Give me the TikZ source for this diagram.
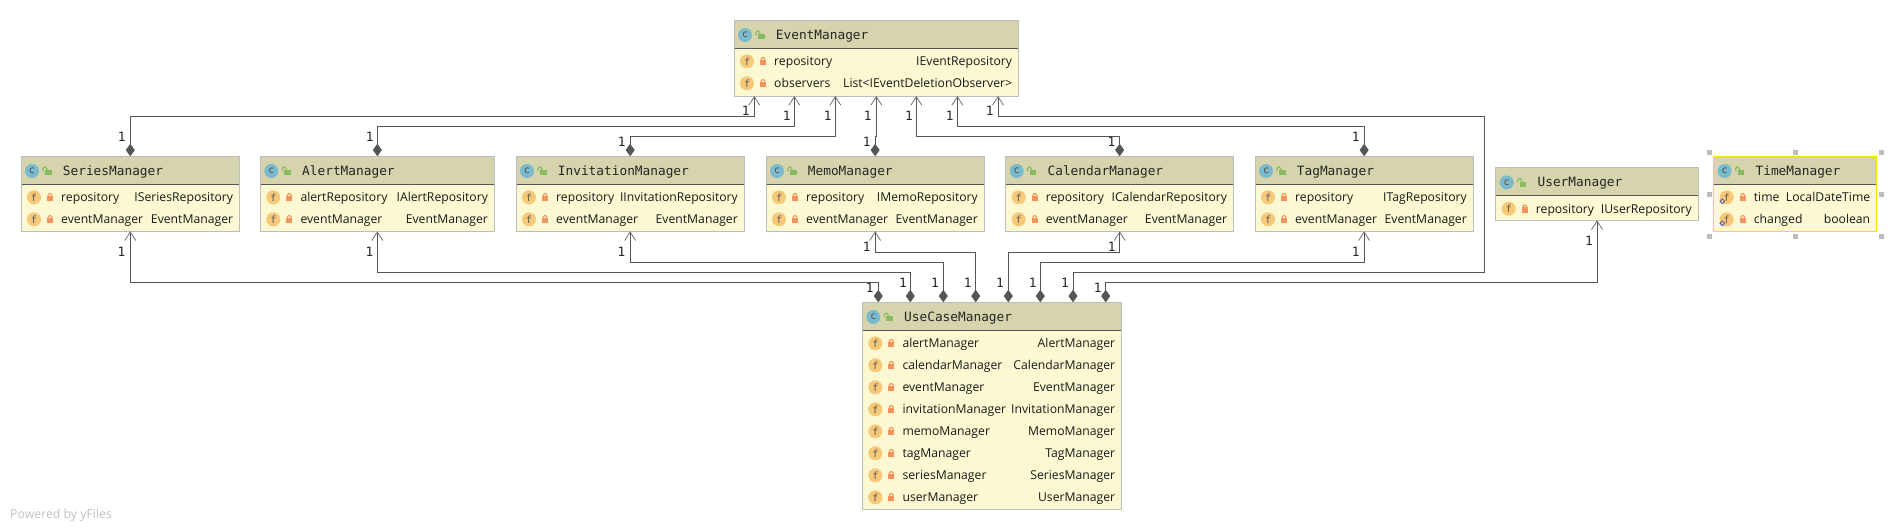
\documentclass[tikz,border=0pt]{standalone}
\usepackage{fontspec}
\usetikzlibrary{arrows.meta,shapes.geometric}
\setmainfont{Open Sans}
\newfontfamily\titlefont{DejaVu Sans Mono}
\definecolor{headfill}{HTML}{D6D4AC}
\definecolor{bodyfill}{HTML}{FCF9D2}
\definecolor{boxline}{HTML}{BDBDBD}
\definecolor{linkline}{HTML}{555555}
\definecolor{tipline}{HTML}{707070}
\definecolor{classicon}{HTML}{7ABACD}
\definecolor{fieldicon}{HTML}{F6C877}
\definecolor{lockred}{HTML}{F5945A}
\definecolor{lockgreen}{HTML}{86BC5E}
\tikzset{
  classbody/.style={draw=boxline,fill=bodyfill,line width=1pt,inner sep=0pt,outer sep=0pt},
  classhead/.style={fill=headfill,inner sep=0pt,outer sep=0pt},
  classtitle/.style={font=\titlefont\fontsize{12.8}{14}\selectfont,text=black!85,anchor=base west,inner sep=0pt},
  fieldtext/.style={font=\fontsize{12.2}{15}\selectfont,text=black!90,anchor=base west,inner sep=0pt},
  typetext/.style={fieldtext,anchor=base east},
  classmark/.style={circle,fill=classicon,minimum size=14pt,inner sep=0pt,font=\titlefont\fontsize{10}{10}\selectfont,text=black!70},
  fieldmark/.style={circle,fill=fieldicon,minimum size=14pt,inner sep=0pt,font=\titlefont\fontsize{10}{10}\selectfont,text=black!65},
  staticmark/.style={diamond,draw=gray!70!blue,line width=0.8pt,minimum size=5pt,inner sep=0pt},
  handle/.style={fill=boxline,minimum size=5pt,inner sep=0pt},
  mult/.style={font=\titlefont\fontsize{12.8}{14}\selectfont,text=black!85,inner sep=0pt},
  assoc/.style={draw=linkline,line width=1pt,{Diamond[length=12.5pt,width=9pt,fill=linkline]}-{Straight Barb[length=8.5pt,width=11pt,color=tipline,line width=0.8pt]}},
  lockshut/.pic={
    \fill[lockred] (-3,-1.4) rectangle (3,4);
    \draw[lockred,line width=1.1pt,rounded corners=1.5pt] (-1.9,-1) -- (-1.9,-3.8) -- (1.9,-3.8) -- (1.9,-1);
  },
  lockopen/.pic={
    \fill[lockgreen] (-2.3,-0.7) rectangle (4.2,4.2);
    \draw[lockgreen,line width=1.1pt,rounded corners=1.5pt] (-4.3,0) -- (-4.3,-4) -- (-0.6,-4) -- (-0.6,-0.7);
  },
}
\newcommand{\umlclass}[7]{
  \pgfmathsetmacro{\boxw}{#4-#2}
  \pgfmathsetmacro{\boxh}{#5-#3}
  \node[classbody,minimum width=\boxw pt,minimum height=\boxh pt] (#1) at ({(#2+#4)/2},{(#3+#5)/2}) {};
  \fill[headfill] (#2+0.5,#3+0.5) rectangle (#4-0.5,#3+28);
  \draw[linkline,line width=0.9pt] (#2+0.5,#3+28) -- (#4-0.5,#3+28);
  \node[classmark] (#1-c) at (#2+11,#3+14.7) {c};
  \pic at (#2+26.3,#3+14.7) {lockopen};
  \node[classtitle] (#1-t) at (#2+41.7,#3+19) {#6};
  \foreach \fname/\ftype [count=\i] in {#7} {
    \pgfmathsetmacro{\rowy}{#3+41+22*(\i-1)}
    \node[fieldmark] (#1-f\i) at (#2+13,\rowy) {f};
    \pic at (#2+29,\rowy) {lockshut};
    \node[fieldtext] (#1-n\i) at (#2+40,\rowy+4.6) {\fname};
    \node[typetext] (#1-y\i) at (#4-6.3,\rowy+4.6) {\ftype};
  }
}

\begin{document}
\begin{tikzpicture}[x=1pt,y=-1pt]
      \useasboundingbox (0,0) rectangle (1897,530);

      \umlclass{event}{734}{20.3}{1018.6}{96}{EventManager}{repository/IEventRepository,observers/List<IEventDeletionObserver>}
      \umlclass{series}{21}{156.3}{239.6}{231.3}{SeriesManager}{repository/ISeriesRepository,eventManager/EventManager}
      \umlclass{alert}{260.3}{156.3}{494.4}{231.3}{AlertManager}{alertRepository/IAlertRepository,eventManager/EventManager}
      \umlclass{invitation}{516}{156.3}{744.3}{231.3}{InvitationManager}{repository/IInvitationRepository,eventManager/EventManager}
      \umlclass{memo}{766}{156.3}{984.3}{231.3}{MemoManager}{repository/IMemoRepository,eventManager/EventManager}
      \umlclass{calendar}{1005.7}{156.3}{1233.6}{231.3}{CalendarManager}{repository/ICalendarRepository,eventManager/EventManager}
      \umlclass{tag}{1255}{156.3}{1473.3}{231.3}{TagManager}{repository/ITagRepository,eventManager/EventManager}
      \umlclass{user}{1495.7}{167.7}{1698.3}{220.3}{UserManager}{repository/IUserRepository}
      \umlclass{usecase}{862.3}{302.3}{1121.7}{509.3}{UseCaseManager}{alertManager/AlertManager,calendarManager/CalendarManager,eventManager/EventManager,invitationManager/InvitationManager,memoManager/MemoManager,tagManager/TagManager,seriesManager/SeriesManager,userManager/UserManager}

      \foreach \hx/\hy [count=\i] in {1709.3/152.3,1795/152.3,1881.7/152.3,1709.3/194.3,1881.7/194.3,1709.3/236.3,1795/236.3,1881.7/236.3}
        \node[handle] (grip\i) at (\hx,\hy) {};
      \umlclass{time}{1713.7}{156.3}{1876.7}{231.3}{TimeManager}{time/LocalDateTime,changed/boolean}
      \draw[color=yellow!80!orange,line width=1pt] (time.north west) rectangle (time.south east);
      \foreach \i in {1,2}
        \node[staticmark] (time-m\i) at ([shift={(-4.4,4)}]time-f\i.center) {};

      \foreach \ex [count=\i] in {754.3,794.3,835.3,876.3,916.3,957.3,998}
        \coordinate (ev\i) at (\ex,96);
      \foreach \ux [count=\i] in {878.3,910.3,943.3,975.7,1008.3,1040.3,1073,1105.7}
        \coordinate (uc\i) at (\ux,302.3);
      \coordinate (laneA) at (0,116.3);
      \coordinate (laneB) at (0,126.3);
      \coordinate (laneC) at (0,136.3);
      \coordinate (lowA) at (0,252.3);
      \coordinate (lowB) at (0,262.3);
      \coordinate (lowC) at (0,272.3);
      \coordinate (lowD) at (0,282.3);
      \coordinate (bendX) at (1484.2,0);

      \draw[assoc] (series.north) -- (series.north |- laneA) -| (ev1);
      \draw[assoc] (alert.north) -- (alert.north |- laneB) -| (ev2);
      \draw[assoc] (invitation.north) -- (invitation.north |- laneC) -| (ev3);
      \draw[assoc] (memo.north) -- (memo.north |- laneC) -| (ev4);
      \draw[assoc] (calendar.north) -- (calendar.north |- laneC) -| (ev5);
      \draw[assoc] (tag.north) -- (tag.north |- laneB) -| (ev6);
      \draw[assoc] (uc7) -- (uc7 |- lowC) -- (bendX |- lowC) -- (bendX |- laneA) -| (ev7);

      \draw[assoc] (uc1) -- (uc1 |- lowD) -| (series.south);
      \draw[assoc] (uc2) -- (uc2 |- lowC) -| (alert.south);
      \draw[assoc] (uc3) -- (uc3 |- lowB) -| (invitation.south);
      \draw[assoc] (uc4) -- (uc4 |- lowA) -| (memo.south);
      \draw[assoc] (uc5) -- (uc5 |- lowA) -| (calendar.south);
      \draw[assoc] (uc6) -- (uc6 |- lowB) -| (tag.south);
      \draw[assoc] (uc8) -- (uc8 |- lowD) -| (user.south);

      \foreach \mx/\my [count=\i] in {745.7/111,786.7/115.7,827.7/115.7,867.7/115.7,909/115.7,949.8/115.7,989.7/111,121.7/136.7,369.7/136.7,621.7/141.7,866.7/141.7,1111.5/141.7,1355.7/136.7,121.4/251.7,369.4/251.7,621.4/251.7,866.7/246.7,1111.7/246.7,1355.7/251.7,1589/240.7,869.7/287.7,903/282.7,935/282.7,967.7/282.7,1000/282.7,1032.7/282.7,1065/282.7,1097.7/287.7}
        \node[mult] (one\i) at (\mx,\my) {1};

      \node[font=\fontsize{12.3}{14}\selectfont,text=black!25,anchor=base west,inner sep=0pt] (powered) at (10,518) {Powered by yFiles};
\end{tikzpicture}
\end{document}
